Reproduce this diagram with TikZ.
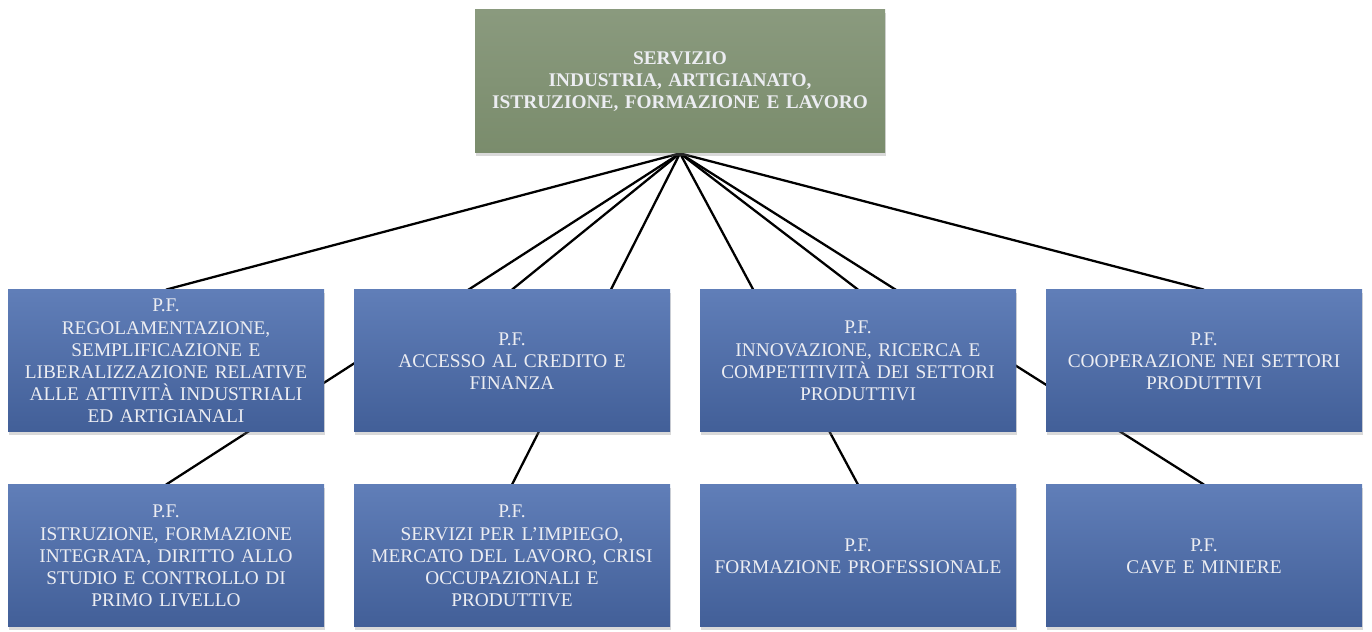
\documentclass[tikz,border=0pt]{standalone}
\usepackage{fontspec}
\setmainfont{Liberation Serif}
\usepackage{tikz}
\usetikzlibrary{backgrounds, shadows}
\definecolor{pfblue}{RGB}{72,102,162}
\definecolor{pftop}{RGB}{96,126,184}
\definecolor{pfdark}{RGB}{66,95,152}
\definecolor{servgreen}{RGB}{122,140,108}
\definecolor{servtop}{RGB}{138,154,126}
\definecolor{boxtext}{RGB}{236,237,242}
\tikzset{
  pfbox/.style={rectangle, top color=pftop, middle color=pfblue, bottom color=pfdark,
    text=boxtext, minimum width=6.32cm, minimum height=2.84cm, text width=6.0cm,
    align=center, inner sep=0pt, font=\fontsize{11}{12.6}\selectfont,
    drop shadow={shadow xshift=0.02cm, shadow yshift=-0.06cm, opacity=0.3}},
  servbox/.style={rectangle, top color=servtop, middle color=servgreen, bottom color=servgreen,
    text=boxtext, minimum width=8.2cm, minimum height=2.86cm, text width=8.0cm,
    align=center, inner sep=0pt, font=\bfseries\fontsize{11}{12.6}\selectfont,
    drop shadow={shadow xshift=0.02cm, shadow yshift=-0.06cm, opacity=0.3}},
  link/.style={line width=1.3pt, color=black}
}

\begin{document}
\begin{tikzpicture}
  \useasboundingbox (0,0) rectangle (27.44,12.64);

  % Servizio
  \node[servbox] (S) at (13.6,11.01) {SERVIZIO\\INDUSTRIA, ARTIGIANATO,\\ISTRUZIONE, FORMAZIONE E LAVORO};

  % First row of P.F.
  \node[pfbox] (A1) at (3.32,5.42) {P.F.\\REGOLAMENTAZIONE,\\SEMPLIFICAZIONE E\\LIBERALIZZAZIONE RELATIVE\\ALLE ATTIVITÀ INDUSTRIALI\\ED ARTIGIANALI};
  \node[pfbox] (A2) at (10.24,5.42) {P.F.\\ACCESSO AL CREDITO E\\FINANZA};
  \node[pfbox] (A3) at (17.16,5.42) {P.F.\\INNOVAZIONE, RICERCA E\\COMPETITIVITÀ DEI SETTORI\\PRODUTTIVI};
  \node[pfbox] (A4) at (24.08,5.42) {P.F.\\COOPERAZIONE NEI SETTORI\\PRODUTTIVI};

  % Second row of P.F.
  \node[pfbox] (B1) at (3.32,1.52) {P.F.\\ISTRUZIONE, FORMAZIONE\\INTEGRATA, DIRITTO ALLO\\STUDIO E CONTROLLO DI\\PRIMO LIVELLO};
  \node[pfbox] (B2) at (10.24,1.52) {P.F.\\SERVIZI PER L'IMPIEGO,\\MERCATO DEL LAVORO, CRISI\\OCCUPAZIONALI E\\PRODUTTIVE};
  \node[pfbox] (B3) at (17.16,1.52) {P.F.\\FORMAZIONE PROFESSIONALE};
  \node[pfbox] (B4) at (24.08,1.52) {P.F.\\CAVE E MINIERE};

  % Connect S to every P.F. (behind the boxes)
  \begin{pgfonlayer}{background}
    \draw[link] (S.south) -- (A1.north);
    \draw[link] (S.south) -- (A2.north);
    \draw[link] (S.south) -- (A3.north);
    \draw[link] (S.south) -- (A4.north);
    \draw[link] (S.south) -- (B1.north);
    \draw[link] (S.south) -- (B2.north);
    \draw[link] (S.south) -- (B3.north);
    \draw[link] (S.south) -- (B4.north);
  \end{pgfonlayer}
\end{tikzpicture}
\end{document}
